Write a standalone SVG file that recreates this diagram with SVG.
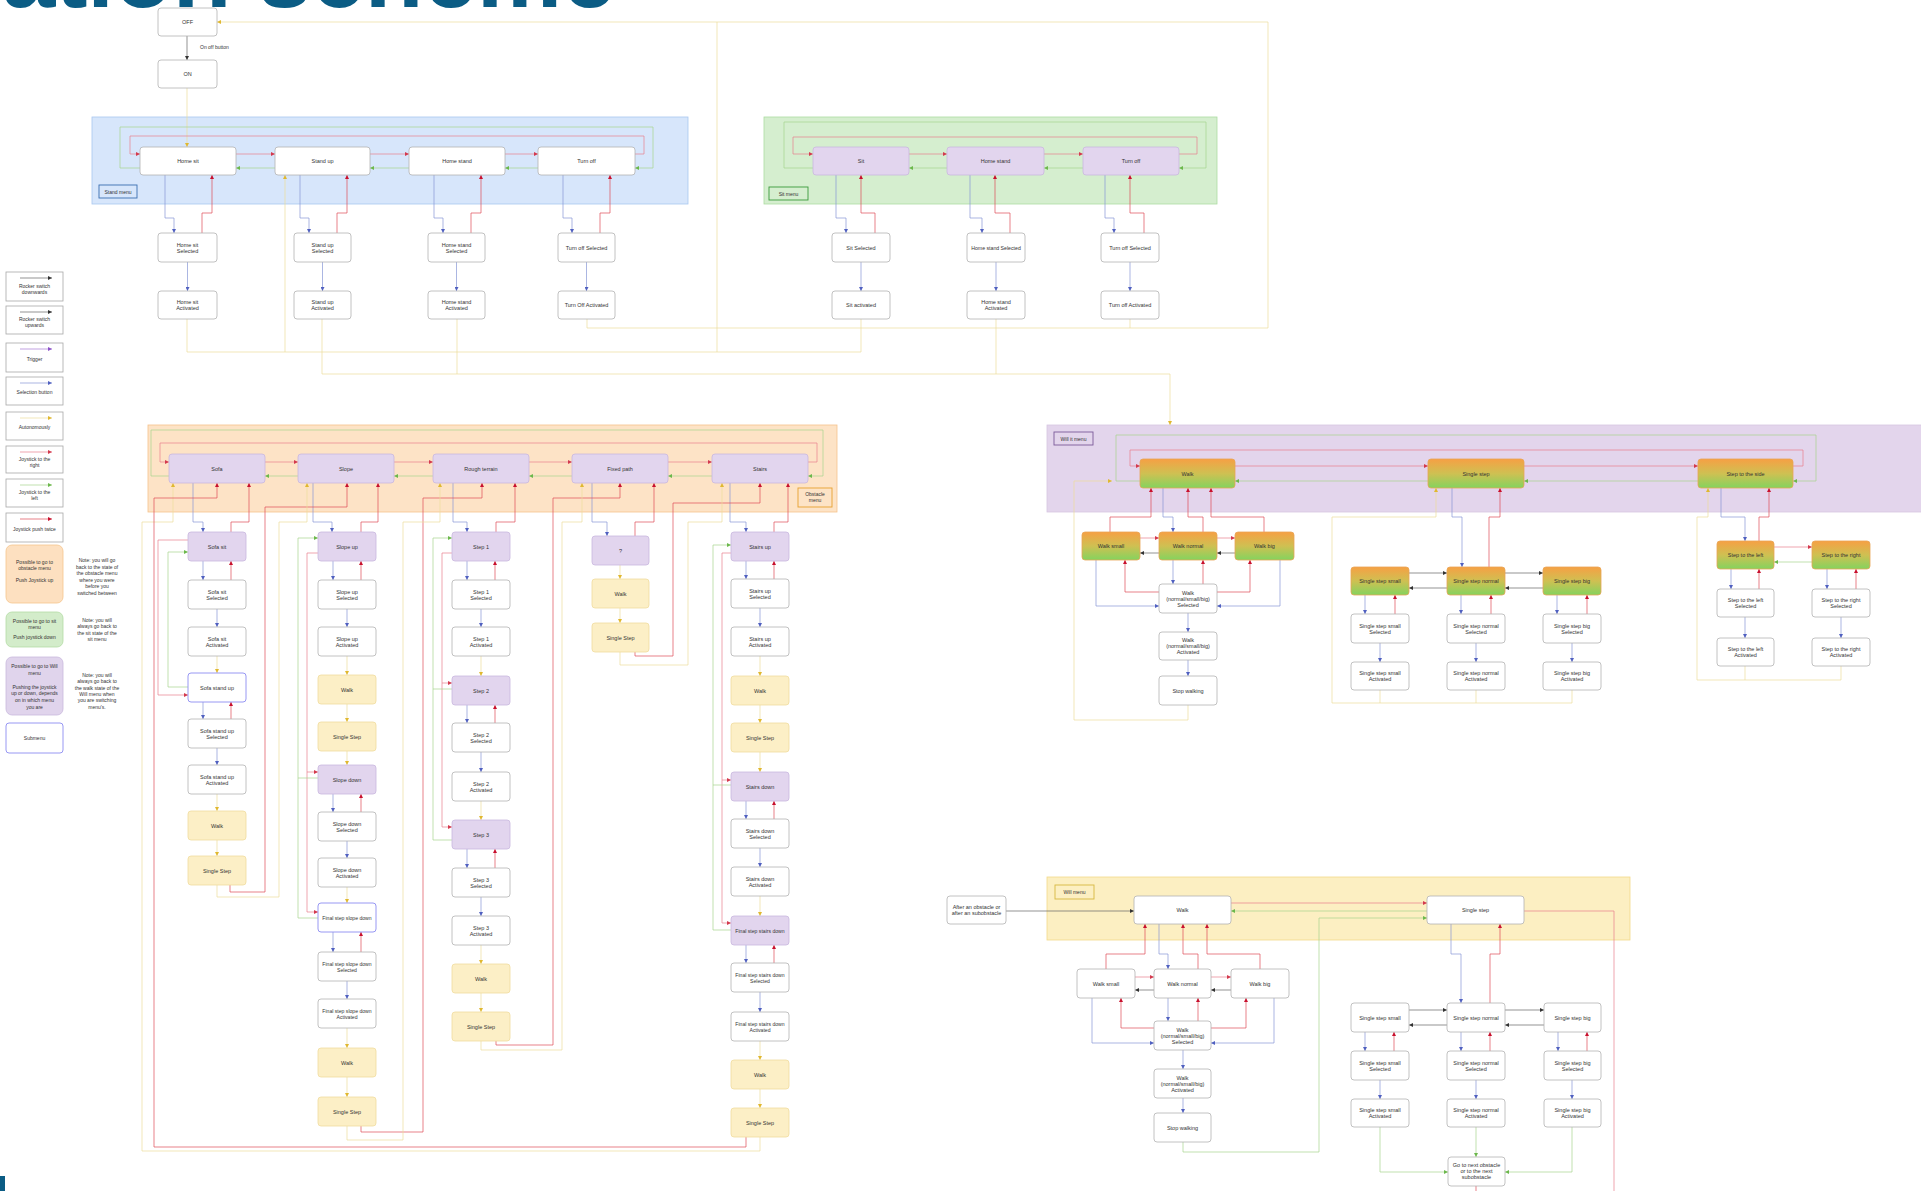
<svg xmlns="http://www.w3.org/2000/svg" width="1921" height="1191" viewBox="0 0 1921 1191">
<defs>
<style>
.t{font-family:'Liberation Sans',Arial,sans-serif;font-size:5.5px;fill:#333;text-anchor:middle}
.ts{font-family:'Liberation Sans',Arial,sans-serif;font-size:5px;fill:#333;text-anchor:middle}
.nw{fill:#fff;stroke:#b3b3b3;stroke-width:0.8}
.np{fill:#e2d5ee;stroke:#c9b8de;stroke-width:0.8}
.ny{fill:#fcefc6;stroke:#f0dc9e;stroke-width:0.8}
.ng{fill:url(#gr);stroke:#e8a555;stroke-width:0.8}
.ns{fill:#fff;stroke:#8c8cf2;stroke-width:0.9}
.lg{fill:#fff;stroke:#a8a8a8;stroke-width:0.8}
.c{fill:none;stroke-width:0.7}
.k{stroke:#666}.r{stroke:#e8808c}.R{stroke:#de4a58}.b{stroke:#8696d6}.y{stroke:#ecdd9c}.g{stroke:#a6d48e}.p{stroke:#a67ad4}
.ak{marker-end:url(#mk)}.ar{marker-end:url(#mr)}.aR{marker-end:url(#mR)}.ab{marker-end:url(#mb)}.ay{marker-end:url(#my)}.ag{marker-end:url(#mg)}.ap{marker-end:url(#mp)}
</style>
<linearGradient id="gr" x1="0" y1="0" x2="0" y2="1"><stop offset="0" stop-color="#f6a044"/><stop offset="0.5" stop-color="#cfc052"/><stop offset="1" stop-color="#84d35e"/></linearGradient>
<marker id="mk" viewBox="0 0 6 6" refX="6" refY="3" markerWidth="4" markerHeight="4" markerUnits="userSpaceOnUse" orient="auto"><path d="M0,0L6,3L0,6z" fill="#333"/></marker>
<marker id="mr" viewBox="0 0 6 6" refX="6" refY="3" markerWidth="4" markerHeight="4" markerUnits="userSpaceOnUse" orient="auto"><path d="M0,0L6,3L0,6z" fill="#d33a4e"/></marker>
<marker id="mR" viewBox="0 0 6 6" refX="6" refY="3" markerWidth="4" markerHeight="4" markerUnits="userSpaceOnUse" orient="auto"><path d="M0,0L6,3L0,6z" fill="#c8102e"/></marker>
<marker id="mb" viewBox="0 0 6 6" refX="6" refY="3" markerWidth="4" markerHeight="4" markerUnits="userSpaceOnUse" orient="auto"><path d="M0,0L6,3L0,6z" fill="#5060c0"/></marker>
<marker id="my" viewBox="0 0 6 6" refX="6" refY="3" markerWidth="4" markerHeight="4" markerUnits="userSpaceOnUse" orient="auto"><path d="M0,0L6,3L0,6z" fill="#e0b830"/></marker>
<marker id="mg" viewBox="0 0 6 6" refX="6" refY="3" markerWidth="4" markerHeight="4" markerUnits="userSpaceOnUse" orient="auto"><path d="M0,0L6,3L0,6z" fill="#6cb84c"/></marker>
<marker id="mp" viewBox="0 0 6 6" refX="6" refY="3" markerWidth="4" markerHeight="4" markerUnits="userSpaceOnUse" orient="auto"><path d="M0,0L6,3L0,6z" fill="#8a50c8"/></marker>
</defs>
<rect x="0" y="0" width="1921" height="1191" fill="#fff"/>
<svg x="0" y="0" width="700" height="9" overflow="hidden"><text x="2" y="7" font-family="'Liberation Sans',Arial,sans-serif" font-size="96" font-weight="bold" fill="#0b5c84">ation scheme</text></svg>
<rect x="0" y="1176" width="5" height="15" fill="#0b5c84"/>

<!-- menu backgrounds -->
<g id="stand-menu">
<rect x="92" y="117" width="596" height="87" fill="#d7e6fb" stroke="#a9c7ef" stroke-width="0.8"/>
<rect x="99" y="185" width="38" height="13" fill="#d7e6fb" stroke="#3a6fb0" stroke-width="0.9"/>
<text class="ts" x="118" y="193.5">Stand menu</text>
</g>
<g id="sit-menu">
<rect x="764" y="117" width="453" height="87" fill="#d5eecf" stroke="#acdca2" stroke-width="0.8"/>
<rect x="769" y="187" width="39" height="13" fill="#d5eecf" stroke="#3a9a3a" stroke-width="0.9"/>
<text class="ts" x="788.5" y="195.5">Sit menu</text>
</g>
<g id="obstacle-menu">
<rect x="148" y="425" width="689" height="87" fill="#fde3c6" stroke="#f6c28c" stroke-width="0.8"/>
<rect x="798" y="488" width="34" height="19" fill="#fde3c6" stroke="#e6a030" stroke-width="0.9"/>
<text class="ts" x="815" y="496"><tspan x="815">Obstacle</tspan><tspan x="815" dy="6">menu</tspan></text>
</g>
<g id="will-it-menu">
<rect x="1047" y="425" width="880" height="87" fill="#e3d5ec" stroke="#d6c6e2" stroke-width="0.8"/>
<rect x="1054" y="432" width="39" height="13" fill="#e3d5ec" stroke="#7a5a9a" stroke-width="0.9"/>
<text class="ts" x="1073.5" y="440.5">Will it menu</text>
</g>
<g id="will-menu">
<rect x="1047" y="877" width="583" height="63" fill="#fcefc2" stroke="#f3da8a" stroke-width="0.8"/>
<rect x="1055" y="885" width="39" height="14" fill="#fcefc2" stroke="#d8b840" stroke-width="0.9"/>
<text class="ts" x="1074.5" y="893.5">Will menu</text>
</g>

<!-- legend -->
<g id="legend">
<g id="lg1"><rect class="lg" x="6" y="272" width="57" height="29"/><path class="c k ak" d="M20,278H52"/><text class="ts" x="34.5" y="288"><tspan x="34.5">Rocker switch</tspan><tspan x="34.5" dy="6">downwards</tspan></text></g>
<g id="lg2"><rect class="lg" x="6" y="306" width="57" height="28"/><path class="c k ak" d="M20,312H52"/><text class="ts" x="34.5" y="321"><tspan x="34.5">Rocker switch</tspan><tspan x="34.5" dy="6">upwards</tspan></text></g>
<g id="lg3"><rect class="lg" x="6" y="343" width="57" height="29"/><path class="c p ap" d="M20,349H52"/><text class="ts" x="34.5" y="361">Trigger</text></g>
<g id="lg4"><rect class="lg" x="6" y="377" width="57" height="28"/><path class="c b ab" d="M20,383H52"/><text class="ts" x="34.5" y="394">Selection button</text></g>
<g id="lg5"><rect class="lg" x="6" y="412" width="57" height="28"/><path class="c y ay" d="M20,418H52"/><text class="ts" x="34.5" y="429">Autonomously</text></g>
<g id="lg6"><rect class="lg" x="6" y="446" width="57" height="27"/><path class="c r ar" d="M20,452H52"/><text class="ts" x="34.5" y="461"><tspan x="34.5">Joystick to the</tspan><tspan x="34.5" dy="6">right</tspan></text></g>
<g id="lg7"><rect class="lg" x="6" y="479" width="57" height="28"/><path class="c g ag" d="M20,485H52"/><text class="ts" x="34.5" y="494"><tspan x="34.5">Joystick to the</tspan><tspan x="34.5" dy="6">left</tspan></text></g>
<g id="lg8"><rect class="lg" x="6" y="513" width="57" height="29"/><path class="c R aR" d="M20,519H52"/><text class="ts" x="34.5" y="531">Joystick push twice</text></g>
<g id="lg9"><rect x="6" y="545" width="57" height="58" rx="6" fill="#fde0c0" stroke="#f5c58e" stroke-width="0.8"/><text class="ts" x="34.5" y="564"><tspan x="34.5">Possible to go to</tspan><tspan x="34.5" dy="6">obstacle menu</tspan><tspan x="34.5" dy="12">Push Joystick up</tspan></text>
<text class="ts" x="97" y="562"><tspan x="97">Note: you will go</tspan><tspan x="97" dy="6.6">back to the state of</tspan><tspan x="97" dy="6.6">the obstacle menu</tspan><tspan x="97" dy="6.6">where you were</tspan><tspan x="97" dy="6.6">before you</tspan><tspan x="97" dy="6.6">switched between</tspan></text></g>
<g id="lg10"><rect x="6" y="612" width="57" height="35" rx="6" fill="#d3ecca" stroke="#b4dca4" stroke-width="0.8"/><text class="ts" x="34.5" y="623"><tspan x="34.5">Possible to go to sit</tspan><tspan x="34.5" dy="6">menu</tspan><tspan x="34.5" dy="10">Push joystick down</tspan></text>
<text class="ts" x="97" y="622"><tspan x="97">Note: you will</tspan><tspan x="97" dy="6.3">always go back to</tspan><tspan x="97" dy="6.3">the sit state of the</tspan><tspan x="97" dy="6.3">sit menu</tspan></text></g>
<g id="lg11"><rect x="6" y="657" width="57" height="58" rx="6" fill="#e0d4ec" stroke="#c9b9dd" stroke-width="0.8"/><text class="ts" x="34.5" y="668"><tspan x="34.5">Possible to go to Will</tspan><tspan x="34.5" dy="6.5">menu</tspan><tspan x="34.5" dy="14">Pushing the joystick</tspan><tspan x="34.5" dy="6.8">up or down, depends</tspan><tspan x="34.5" dy="6.8">on in which menu</tspan><tspan x="34.5" dy="6.8">you are</tspan></text>
<text class="ts" x="97" y="677"><tspan x="97">Note: you will</tspan><tspan x="97" dy="6.3">always go back to</tspan><tspan x="97" dy="6.3">the walk state of the</tspan><tspan x="97" dy="6.3">Will menu when</tspan><tspan x="97" dy="6.3">you are switching</tspan><tspan x="97" dy="6.3">menu's.</tspan></text></g>
<g id="lg12"><rect x="6" y="723" width="57" height="30" rx="3" fill="#fff" stroke="#8c8cf2" stroke-width="0.9"/><text class="ts" x="34.5" y="740">Submenu</text></g>
</g>

<!-- connectors -->
<g id="connectors">
<path class="c k ak" d="M187,36V60"/>
<text class="ts" x="200" y="49" style="text-anchor:start">On off button</text>
<path class="c y ay" d="M187,88V147"/>
<path class="c y ay" d="M587,319V328H1268V22H217"/>
<path class="c y" d="M1130,319V328"/>
<path class="c y" d="M187,319V352H861V319"/>
<path class="c y ay" d="M285,352V175"/>
<path class="c y" d="M717,352V22"/>
<path class="c y ay" d="M322,319V374H1170V425"/>
<path class="c y" d="M457,319V374"/>
<path class="c y" d="M996,319V374"/>
<path class="c r ar" d="M236,154H275"/><path class="c r ar" d="M370,154H409"/><path class="c r ar" d="M505,154H538"/>
<path class="c r ar" d="M635,154H644V136H130V154H140"/>
<path class="c g ag" d="M275,168H236"/><path class="c g ag" d="M409,168H370"/><path class="c g ag" d="M538,168H505"/>
<path class="c g ag" d="M140,168H120V127H653V168H635"/>
<path class="c b ab" d="M165,175V218H174V233"/><path class="c R aR" d="M202,233V213H212V175"/>
<path class="c b ab" d="M300,175V218H309V233"/><path class="c R aR" d="M337,233V213H347V175"/>
<path class="c b ab" d="M434,175V218H443V233"/><path class="c R aR" d="M471,233V213H481V175"/>
<path class="c b ab" d="M563,175V218H572V233"/><path class="c R aR" d="M600,233V213H610V175"/>
<path class="c b ab" d="M187.5,262V291"/><path class="c b ab" d="M322.5,262V291"/><path class="c b ab" d="M456.5,262V291"/><path class="c b ab" d="M586.5,262V291"/>
<path class="c r ar" d="M909,154H947"/><path class="c r ar" d="M1044,154H1083"/>
<path class="c r ar" d="M1179,154H1197V137H793V154H813"/>
<path class="c g ag" d="M947,168H909"/><path class="c g ag" d="M1083,168H1044"/>
<path class="c g ag" d="M813,168H784V122H1206V168H1179"/>
<path class="c b ab" d="M836,175V218H846V233"/><path class="c R aR" d="M875,233V213H861V175"/>
<path class="c b ab" d="M970,175V218H982V233"/><path class="c R aR" d="M1010,233V213H995V175"/>
<path class="c b ab" d="M1105,175V218H1114V233"/><path class="c R aR" d="M1144,233V213H1130V175"/>
<path class="c b ab" d="M861,262V291"/><path class="c b ab" d="M996,262V291"/><path class="c b ab" d="M1130,262V291"/>
<path class="c r ar" d="M265,462H298"/><path class="c r ar" d="M394,462H433"/><path class="c r ar" d="M529,462H572"/><path class="c r ar" d="M668,462H712"/>
<path class="c r ar" d="M808,462H817V443H160V462H169"/>
<path class="c g ag" d="M298,476H265"/><path class="c g ag" d="M433,476H394"/><path class="c g ag" d="M572,476H529"/><path class="c g ag" d="M712,476H668"/>
<path class="c g ag" d="M169,476H151V430H823V476H808"/>
<path class="c b ab" d="M193,483V522H203V532"/><path class="c R aR" d="M231,532V522H249V483"/>
<path class="c b ab" d="M313,483V522H332V532"/><path class="c R aR" d="M361,532V522H378V483"/>
<path class="c b ab" d="M453,483V522H467V532"/><path class="c R aR" d="M496,532V522H515V483"/>
<path class="c b ab" d="M592,483V522H607V536"/><path class="c R aR" d="M635,536V522H654V483"/>
<path class="c b ab" d="M730,483V522H746V532"/><path class="c R aR" d="M774,532V522H788V483"/>
<path class="c y ay" d="M760,1137V1151H142V522H173V483"/>
<path class="c R aR" d="M746,1137V1147H154V498H217V483"/>
<path class="c R aR" d="M230,885V892H265V507H347V483"/>
<path class="c y ay" d="M217,885V897H279V522H307V483"/>
<path class="c R aR" d="M361,1126V1132H423V498H482V483"/>
<path class="c y ay" d="M347,1126V1140H403V522H440V483"/>
<path class="c R aR" d="M496,1041V1045H553V498H620V483"/>
<path class="c y ay" d="M481,1041V1050H562V522H582V483"/>
<path class="c R aR" d="M635,652V656H673V503H760V483"/>
<path class="c y ay" d="M620,652V665H688V522H722V483"/>
<path class="c b ab" d="M203,561V580"/><path class="c R aR" d="M231,580V561"/><path class="c b ab" d="M217,609V627"/><path class="c y ay" d="M217,656V673"/>
<path class="c b ab" d="M203,702V719"/><path class="c R aR" d="M231,719V702"/><path class="c b ab" d="M217,748V765"/><path class="c y ay" d="M217,794V811"/><path class="c y ay" d="M217,840V856"/>
<path class="c g ag" d="M188,687H168V552H188"/><path class="c r ar" d="M188,540H158V695H188"/>
<path class="c b ab" d="M333,561V580"/><path class="c R aR" d="M361,580V561"/><path class="c b ab" d="M347,609V627"/><path class="c y ay" d="M347,656V675"/><path class="c y ay" d="M347,704V722"/><path class="c y ay" d="M347,751V765"/>
<path class="c b ab" d="M333,794V812"/><path class="c R aR" d="M361,812V794"/><path class="c b ab" d="M347,841V858"/><path class="c y ay" d="M347,887V903"/>
<path class="c b ab" d="M333,932V952"/><path class="c R aR" d="M361,952V932"/><path class="c b ab" d="M347,981V999"/><path class="c y ay" d="M347,1028V1048"/><path class="c y ay" d="M347,1077V1097"/>
<path class="c r ar" d="M318,553H307V772H318"/><path class="c r ar" d="M307,772V912H318"/>
<path class="c g ag" d="M318,778H298V538H318"/><path class="c g" d="M318,918H298V778"/>
<path class="c b ab" d="M467,561V580"/><path class="c R aR" d="M495,580V561"/><path class="c b ab" d="M481,609V627"/><path class="c y ay" d="M481,656V676"/>
<path class="c b ab" d="M467,705V723"/><path class="c R aR" d="M495,723V705"/><path class="c b ab" d="M481,752V772"/><path class="c y ay" d="M481,801V820"/>
<path class="c b ab" d="M467,849V868"/><path class="c R aR" d="M495,868V849"/><path class="c b ab" d="M481,897V916"/><path class="c y ay" d="M481,945V964"/><path class="c y ay" d="M481,993V1012"/>
<path class="c r ar" d="M452,553H442V683H452"/><path class="c r ar" d="M442,683V827H452"/>
<path class="c g ag" d="M452,689H433V538H452"/><path class="c g" d="M452,840H433V689"/>
<path class="c y ay" d="M620,565V579"/><path class="c y ay" d="M620,608V623"/>
<path class="c b ab" d="M746,561V579"/><path class="c R aR" d="M774,579V561"/><path class="c b ab" d="M760,608V627"/><path class="c y ay" d="M760,656V676"/><path class="c y ay" d="M760,705V723"/><path class="c y ay" d="M760,752V772"/>
<path class="c b ab" d="M746,801V819"/><path class="c R aR" d="M774,819V801"/><path class="c b ab" d="M760,848V867"/><path class="c y ay" d="M760,896V916"/>
<path class="c b ab" d="M746,945V963"/><path class="c R aR" d="M774,963V945"/><path class="c b ab" d="M760,992V1012"/><path class="c y ay" d="M760,1041V1060"/><path class="c y ay" d="M760,1089V1108"/>
<path class="c r ar" d="M731,553H722V780H731"/><path class="c r ar" d="M722,780V923H731"/>
<path class="c g ag" d="M731,785H713V545H731"/><path class="c g" d="M731,930H713V785"/>
<path class="c r ar" d="M1235,466H1428"/><path class="c r ar" d="M1524,466H1698"/>
<path class="c r ar" d="M1793,466H1803V450H1130V466H1140"/>
<path class="c g ag" d="M1428,481H1235"/><path class="c g ag" d="M1698,481H1524"/>
<path class="c g ag" d="M1140,481H1116V435H1816V481H1793"/>
<path class="c y ay" d="M1188,705V720H1074V481H1112"/>
<path class="c R aR" d="M1110,532V517H1151V488"/><path class="c b ab" d="M1163,488V517H1173V532"/><path class="c R aR" d="M1203,532V517H1188V488"/><path class="c R aR" d="M1264,532V517H1211V488"/>
<path class="c r ar" d="M1140,538H1159"/><path class="c r ar" d="M1217,538H1235"/><path class="c k ak" d="M1159,553H1140"/><path class="c k ak" d="M1235,553H1217"/>
<path class="c R aR" d="M1159,592H1125V560"/><path class="c b ab" d="M1096,560V606H1159"/><path class="c b ab" d="M1173,560V584"/><path class="c R aR" d="M1203,584V560"/>
<path class="c R aR" d="M1217,592H1250V560"/><path class="c b ab" d="M1280,560V606H1217"/>
<path class="c b ab" d="M1188,613V632"/><path class="c b ab" d="M1188,660V676"/>
<path class="c b ab" d="M1452,488V517H1462V567"/><path class="c R aR" d="M1489,567V517H1500V488"/>
<path class="c k ak" d="M1409,573H1447"/><path class="c k ak" d="M1505,573H1543"/><path class="c k ak" d="M1447,588H1409"/><path class="c k ak" d="M1543,588H1505"/>
<path class="c b ab" d="M1365,595V614"/><path class="c R aR" d="M1395,614V595"/><path class="c b ab" d="M1461,595V614"/><path class="c R aR" d="M1491,614V595"/><path class="c b ab" d="M1557,595V614"/><path class="c R aR" d="M1587,614V595"/>
<path class="c b ab" d="M1380,643V662"/><path class="c b ab" d="M1476,643V662"/><path class="c b ab" d="M1572,643V662"/>
<path class="c y ay" d="M1572,690V703H1332V517H1436V488"/><path class="c y" d="M1380,690V703"/><path class="c y" d="M1476,690V703"/>
<path class="c b ab" d="M1721,488V517H1745V541"/><path class="c R aR" d="M1759,541V517H1769V488"/>
<path class="c r ar" d="M1774,547H1812"/><path class="c g ag" d="M1812,562H1774"/>
<path class="c b ab" d="M1731,569V589"/><path class="c R aR" d="M1759,589V569"/><path class="c b ab" d="M1827,569V589"/><path class="c R aR" d="M1856,589V569"/>
<path class="c b ab" d="M1745,617V638"/><path class="c b ab" d="M1841,617V638"/>
<path class="c y ay" d="M1841,666V680H1697V517H1708V488"/><path class="c y" d="M1745,666V680"/>
<path class="c k ak" d="M1006,911H1134"/>
<path class="c r ar" d="M1231,903H1427"/><path class="c g ag" d="M1427,911H1231"/>
<path class="c r" d="M1524,911H1614V1191"/>
<path class="c g ag" d="M1183,1142V1152H1319V918H1427"/>
<path class="c R aR" d="M1106,969V954H1145V924"/><path class="c b ab" d="M1159,924V954H1168V969"/><path class="c R aR" d="M1198,969V954H1183V924"/><path class="c R aR" d="M1260,969V954H1207V924"/>
<path class="c r ar" d="M1135,977H1154"/><path class="c r ar" d="M1211,977H1231"/><path class="c k ak" d="M1154,990H1135"/><path class="c k ak" d="M1231,990H1211"/>
<path class="c R aR" d="M1154,1028H1121V998"/><path class="c b ab" d="M1092,998V1043H1154"/><path class="c b ab" d="M1168,998V1021"/><path class="c R aR" d="M1198,1021V998"/>
<path class="c R aR" d="M1211,1028H1246V998"/><path class="c b ab" d="M1274,998V1043H1211"/>
<path class="c b ab" d="M1183,1050V1069"/><path class="c b ab" d="M1183,1098V1113"/>
<path class="c b ab" d="M1451,924V954H1461V1003"/><path class="c R aR" d="M1490,1003V954H1500V924"/>
<path class="c k ak" d="M1409,1010H1447"/><path class="c k ak" d="M1505,1010H1544"/><path class="c k ak" d="M1447,1025H1409"/><path class="c k ak" d="M1544,1025H1505"/>
<path class="c b ab" d="M1365,1032V1051"/><path class="c R aR" d="M1394,1051V1032"/><path class="c b ab" d="M1461,1032V1051"/><path class="c R aR" d="M1490,1051V1032"/><path class="c b ab" d="M1558,1032V1051"/><path class="c R aR" d="M1587,1051V1032"/>
<path class="c b ab" d="M1380,1080V1099"/><path class="c b ab" d="M1476,1080V1099"/><path class="c b ab" d="M1572,1080V1099"/>
<path class="c g ag" d="M1380,1127V1172H1448"/><path class="c g ag" d="M1476,1127V1157"/><path class="c g ag" d="M1572,1127V1172H1505"/>
<path class="c R" d="M1476,1186V1191"/>
</g>

<g id="off"><rect class="nw" x="158" y="8" width="59" height="28" rx="3"/><text class="t" x="187.5" y="24">OFF</text></g>
<g id="on"><rect class="nw" x="158" y="60" width="59" height="28" rx="3"/><text class="t" x="187.5" y="76">ON</text></g>
<g id="home-sit"><rect class="nw" x="140" y="147" width="96" height="28" rx="3"/><text class="t" x="188" y="163">Home sit</text></g>
<g id="stand-up"><rect class="nw" x="275" y="147" width="95" height="28" rx="3"/><text class="t" x="322.5" y="163">Stand up</text></g>
<g id="home-stand"><rect class="nw" x="409" y="147" width="96" height="28" rx="3"/><text class="t" x="457" y="163">Home stand</text></g>
<g id="turn-off"><rect class="nw" x="538" y="147" width="97" height="28" rx="3"/><text class="t" x="586.5" y="163">Turn off</text></g>
<g id="home-sit-sel"><rect class="nw" x="158" y="233" width="59" height="29" rx="3"/><text class="t" x="187.5" y="246.5"><tspan x="187.5">Home sit</tspan><tspan x="187.5" dy="6">Selected</tspan></text></g>
<g id="home-sit-act"><rect class="nw" x="158" y="291" width="59" height="28" rx="3"/><text class="t" x="187.5" y="304"><tspan x="187.5">Home sit</tspan><tspan x="187.5" dy="6">Activated</tspan></text></g>
<g id="stand-up-sel"><rect class="nw" x="294" y="233" width="57" height="29" rx="3"/><text class="t" x="322.5" y="246.5"><tspan x="322.5">Stand up</tspan><tspan x="322.5" dy="6">Selected</tspan></text></g>
<g id="stand-up-act"><rect class="nw" x="294" y="291" width="57" height="28" rx="3"/><text class="t" x="322.5" y="304"><tspan x="322.5">Stand up</tspan><tspan x="322.5" dy="6">Activated</tspan></text></g>
<g id="home-stand-sel"><rect class="nw" x="428" y="233" width="57" height="29" rx="3"/><text class="t" x="456.5" y="246.5"><tspan x="456.5">Home stand</tspan><tspan x="456.5" dy="6">Selected</tspan></text></g>
<g id="home-stand-act"><rect class="nw" x="428" y="291" width="57" height="28" rx="3"/><text class="t" x="456.5" y="304"><tspan x="456.5">Home stand</tspan><tspan x="456.5" dy="6">Activated</tspan></text></g>
<g id="turn-off-sel"><rect class="nw" x="558" y="233" width="57" height="29" rx="3"/><text class="t" x="586.5" y="249.5">Turn off Selected</text></g>
<g id="turn-off-act"><rect class="nw" x="558" y="291" width="57" height="28" rx="3"/><text class="t" x="586.5" y="307">Turn Off Activated</text></g>

<g id="sit"><rect class="np" x="813" y="147" width="96" height="28" rx="3"/><text class="t" x="861" y="163">Sit</text></g>
<g id="sm-home-stand"><rect class="np" x="947" y="147" width="97" height="28" rx="3"/><text class="t" x="995.5" y="163">Home stand</text></g>
<g id="sm-turn-off"><rect class="np" x="1083" y="147" width="96" height="28" rx="3"/><text class="t" x="1131" y="163">Turn off</text></g>
<g id="sit-sel"><rect class="nw" x="832" y="233" width="58" height="29" rx="3"/><text class="t" x="861" y="249.5">Sit Selected</text></g>
<g id="sm-home-stand-sel"><rect class="nw" x="967" y="233" width="58" height="29" rx="3"/><text class="t" x="996" y="249.5" style="font-size:5.2px">Home stand Selected</text></g>
<g id="sm-turn-off-sel"><rect class="nw" x="1101" y="233" width="58" height="29" rx="3"/><text class="t" x="1130" y="249.5">Turn off Selected</text></g>
<g id="sit-act"><rect class="nw" x="832" y="291" width="58" height="28" rx="3"/><text class="t" x="861" y="307">Sit activated</text></g>
<g id="sm-home-stand-act"><rect class="nw" x="967" y="291" width="58" height="28" rx="3"/><text class="t" x="996" y="304"><tspan x="996">Home stand</tspan><tspan x="996" dy="6">Activated</tspan></text></g>
<g id="sm-turn-off-act"><rect class="nw" x="1101" y="291" width="58" height="28" rx="3"/><text class="t" x="1130" y="307">Turn off Activated</text></g>

<g id="sofa"><rect class="np" x="169" y="454" width="96" height="29" rx="3"/><text class="t" x="217" y="470.5">Sofa</text></g>
<g id="slope"><rect class="np" x="298" y="454" width="96" height="29" rx="3"/><text class="t" x="346" y="470.5">Slope</text></g>
<g id="rough"><rect class="np" x="433" y="454" width="96" height="29" rx="3"/><text class="t" x="481" y="470.5">Rough terrain</text></g>
<g id="fixed"><rect class="np" x="572" y="454" width="96" height="29" rx="3"/><text class="t" x="620" y="470.5">Fixed path</text></g>
<g id="stairs"><rect class="np" x="712" y="454" width="96" height="29" rx="3"/><text class="t" x="760" y="470.5">Stairs</text></g>

<g id="sofa-sit"><rect class="np" x="188" y="532" width="58" height="29" rx="3"/><text class="t" x="217" y="548.5">Sofa sit</text></g>
<g id="sofa-sit-sel"><rect class="nw" x="188" y="580" width="58" height="29" rx="3"/><text class="t" x="217" y="593.5"><tspan x="217">Sofa sit</tspan><tspan x="217" dy="6">Selected</tspan></text></g>
<g id="sofa-sit-act"><rect class="nw" x="188" y="627" width="58" height="29" rx="3"/><text class="t" x="217" y="640.5"><tspan x="217">Sofa sit</tspan><tspan x="217" dy="6">Activated</tspan></text></g>
<g id="sofa-stand"><rect class="ns" x="188" y="673" width="58" height="29" rx="3"/><text class="t" x="217" y="689.5">Sofa stand up</text></g>
<g id="sofa-stand-sel"><rect class="nw" x="188" y="719" width="58" height="29" rx="3"/><text class="t" x="217" y="732.5"><tspan x="217">Sofa stand up</tspan><tspan x="217" dy="6">Selected</tspan></text></g>
<g id="sofa-stand-act"><rect class="nw" x="188" y="765" width="58" height="29" rx="3"/><text class="t" x="217" y="778.5"><tspan x="217">Sofa stand up</tspan><tspan x="217" dy="6">Activated</tspan></text></g>
<g id="sofa-walk"><rect class="ny" x="188" y="811" width="58" height="29" rx="3"/><text class="t" x="217" y="827.5">Walk</text></g>
<g id="sofa-single"><rect class="ny" x="188" y="856" width="58" height="29" rx="3"/><text class="t" x="217" y="872.5">Single Step</text></g>

<g id="slope-up"><rect class="np" x="318" y="532" width="58" height="29" rx="3"/><text class="t" x="347" y="548.5">Slope up</text></g>
<g id="slope-up-sel"><rect class="nw" x="318" y="580" width="58" height="29" rx="3"/><text class="t" x="347" y="593.5"><tspan x="347">Slope up</tspan><tspan x="347" dy="6">Selected</tspan></text></g>
<g id="slope-up-act"><rect class="nw" x="318" y="627" width="58" height="29" rx="3"/><text class="t" x="347" y="640.5"><tspan x="347">Slope up</tspan><tspan x="347" dy="6">Activated</tspan></text></g>
<g id="slope-walk1"><rect class="ny" x="318" y="675" width="58" height="29" rx="3"/><text class="t" x="347" y="691.5">Walk</text></g>
<g id="slope-single1"><rect class="ny" x="318" y="722" width="58" height="29" rx="3"/><text class="t" x="347" y="738.5">Single Step</text></g>
<g id="slope-down"><rect class="np" x="318" y="765" width="58" height="29" rx="3"/><text class="t" x="347" y="781.5">Slope down</text></g>
<g id="slope-down-sel"><rect class="nw" x="318" y="812" width="58" height="29" rx="3"/><text class="t" x="347" y="825.5"><tspan x="347">Slope down</tspan><tspan x="347" dy="6">Selected</tspan></text></g>
<g id="slope-down-act"><rect class="nw" x="318" y="858" width="58" height="29" rx="3"/><text class="t" x="347" y="871.5"><tspan x="347">Slope down</tspan><tspan x="347" dy="6">Activated</tspan></text></g>
<g id="final-slope"><rect class="ns" x="318" y="903" width="58" height="29" rx="3"/><text class="t" x="347" y="919.5" style="font-size:5.1px">Final step slope down</text></g>
<g id="final-slope-sel"><rect class="nw" x="318" y="952" width="58" height="29" rx="3"/><text class="t" x="347" y="965.5" style="font-size:5.1px"><tspan x="347">Final step slope down</tspan><tspan x="347" dy="6">Selected</tspan></text></g>
<g id="final-slope-act"><rect class="nw" x="318" y="999" width="58" height="29" rx="3"/><text class="t" x="347" y="1012.5" style="font-size:5.1px"><tspan x="347">Final step slope down</tspan><tspan x="347" dy="6">Activated</tspan></text></g>
<g id="slope-walk2"><rect class="ny" x="318" y="1048" width="58" height="29" rx="3"/><text class="t" x="347" y="1064.5">Walk</text></g>
<g id="slope-single2"><rect class="ny" x="318" y="1097" width="58" height="29" rx="3"/><text class="t" x="347" y="1113.5">Single Step</text></g>

<g id="step1"><rect class="np" x="452" y="532" width="58" height="29" rx="3"/><text class="t" x="481" y="548.5">Step 1</text></g>
<g id="step1-sel"><rect class="nw" x="452" y="580" width="58" height="29" rx="3"/><text class="t" x="481" y="593.5"><tspan x="481">Step 1</tspan><tspan x="481" dy="6">Selected</tspan></text></g>
<g id="step1-act"><rect class="nw" x="452" y="627" width="58" height="29" rx="3"/><text class="t" x="481" y="640.5"><tspan x="481">Step 1</tspan><tspan x="481" dy="6">Activated</tspan></text></g>
<g id="step2"><rect class="np" x="452" y="676" width="58" height="29" rx="3"/><text class="t" x="481" y="692.5">Step 2</text></g>
<g id="step2-sel"><rect class="nw" x="452" y="723" width="58" height="29" rx="3"/><text class="t" x="481" y="736.5"><tspan x="481">Step 2</tspan><tspan x="481" dy="6">Selected</tspan></text></g>
<g id="step2-act"><rect class="nw" x="452" y="772" width="58" height="29" rx="3"/><text class="t" x="481" y="785.5"><tspan x="481">Step 2</tspan><tspan x="481" dy="6">Activated</tspan></text></g>
<g id="step3"><rect class="np" x="452" y="820" width="58" height="29" rx="3"/><text class="t" x="481" y="836.5">Step 3</text></g>
<g id="step3-sel"><rect class="nw" x="452" y="868" width="58" height="29" rx="3"/><text class="t" x="481" y="881.5"><tspan x="481">Step 3</tspan><tspan x="481" dy="6">Selected</tspan></text></g>
<g id="step3-act"><rect class="nw" x="452" y="916" width="58" height="29" rx="3"/><text class="t" x="481" y="929.5"><tspan x="481">Step 3</tspan><tspan x="481" dy="6">Activated</tspan></text></g>
<g id="rough-walk"><rect class="ny" x="452" y="964" width="58" height="29" rx="3"/><text class="t" x="481" y="980.5">Walk</text></g>
<g id="rough-single"><rect class="ny" x="452" y="1012" width="58" height="29" rx="3"/><text class="t" x="481" y="1028.5">Single Step</text></g>

<g id="fixed-q"><rect class="np" x="592" y="536" width="57" height="29" rx="3"/><text class="t" x="620.5" y="552.5">?</text></g>
<g id="fixed-walk"><rect class="ny" x="592" y="579" width="57" height="29" rx="3"/><text class="t" x="620.5" y="595.5">Walk</text></g>
<g id="fixed-single"><rect class="ny" x="592" y="623" width="57" height="29" rx="3"/><text class="t" x="620.5" y="639.5">Single Step</text></g>

<g id="stairs-up"><rect class="np" x="731" y="532" width="58" height="29" rx="3"/><text class="t" x="760" y="548.5">Stairs up</text></g>
<g id="stairs-up-sel"><rect class="nw" x="731" y="579" width="58" height="29" rx="3"/><text class="t" x="760" y="592.5"><tspan x="760">Stairs up</tspan><tspan x="760" dy="6">Selected</tspan></text></g>
<g id="stairs-up-act"><rect class="nw" x="731" y="627" width="58" height="29" rx="3"/><text class="t" x="760" y="640.5"><tspan x="760">Stairs up</tspan><tspan x="760" dy="6">Activated</tspan></text></g>
<g id="stairs-walk1"><rect class="ny" x="731" y="676" width="58" height="29" rx="3"/><text class="t" x="760" y="692.5">Walk</text></g>
<g id="stairs-single1"><rect class="ny" x="731" y="723" width="58" height="29" rx="3"/><text class="t" x="760" y="739.5">Single Step</text></g>
<g id="stairs-down"><rect class="np" x="731" y="772" width="58" height="29" rx="3"/><text class="t" x="760" y="788.5">Stairs down</text></g>
<g id="stairs-down-sel"><rect class="nw" x="731" y="819" width="58" height="29" rx="3"/><text class="t" x="760" y="832.5"><tspan x="760">Stairs down</tspan><tspan x="760" dy="6">Selected</tspan></text></g>
<g id="stairs-down-act"><rect class="nw" x="731" y="867" width="58" height="29" rx="3"/><text class="t" x="760" y="880.5"><tspan x="760">Stairs down</tspan><tspan x="760" dy="6">Activated</tspan></text></g>
<g id="final-stairs"><rect class="np" x="731" y="916" width="58" height="29" rx="3"/><text class="t" x="760" y="932.5" style="font-size:5.1px">Final step stairs down</text></g>
<g id="final-stairs-sel"><rect class="nw" x="731" y="963" width="58" height="29" rx="3"/><text class="t" x="760" y="976.5" style="font-size:5.1px"><tspan x="760">Final step stairs down</tspan><tspan x="760" dy="6">Selected</tspan></text></g>
<g id="final-stairs-act"><rect class="nw" x="731" y="1012" width="58" height="29" rx="3"/><text class="t" x="760" y="1025.5" style="font-size:5.1px"><tspan x="760">Final step stairs down</tspan><tspan x="760" dy="6">Activated</tspan></text></g>
<g id="stairs-walk2"><rect class="ny" x="731" y="1060" width="58" height="29" rx="3"/><text class="t" x="760" y="1076.5">Walk</text></g>
<g id="stairs-single2"><rect class="ny" x="731" y="1108" width="58" height="29" rx="3"/><text class="t" x="760" y="1124.5">Single Step</text></g>

<g id="wi-walk"><rect class="ng" x="1140" y="459" width="95" height="29" rx="3"/><text class="t" x="1187.5" y="475.5">Walk</text></g>
<g id="wi-single"><rect class="ng" x="1428" y="459" width="96" height="29" rx="3"/><text class="t" x="1476" y="475.5">Single step</text></g>
<g id="wi-side"><rect class="ng" x="1698" y="459" width="95" height="29" rx="3"/><text class="t" x="1745.5" y="475.5">Step to the side</text></g>
<g id="wi-walk-small"><rect class="ng" x="1082" y="532" width="58" height="28" rx="3"/><text class="t" x="1111" y="548">Walk small</text></g>
<g id="wi-walk-normal"><rect class="ng" x="1159" y="532" width="58" height="28" rx="3"/><text class="t" x="1188" y="548">Walk normal</text></g>
<g id="wi-walk-big"><rect class="ng" x="1235" y="532" width="59" height="28" rx="3"/><text class="t" x="1264.5" y="548">Walk big</text></g>
<g id="wi-walk-sel"><rect class="nw" x="1159" y="584" width="58" height="29" rx="3"/><text class="t" x="1188" y="594.5"><tspan x="1188">Walk</tspan><tspan x="1188" dy="6">(normal/small/big)</tspan><tspan x="1188" dy="6">Selected</tspan></text></g>
<g id="wi-walk-act"><rect class="nw" x="1159" y="632" width="58" height="28" rx="3"/><text class="t" x="1188" y="642"><tspan x="1188">Walk</tspan><tspan x="1188" dy="6">(normal/small/big)</tspan><tspan x="1188" dy="6">Activated</tspan></text></g>
<g id="wi-stop"><rect class="nw" x="1159" y="676" width="58" height="29" rx="3"/><text class="t" x="1188" y="692.5">Stop walking</text></g>
<g id="wi-ss-small"><rect class="ng" x="1351" y="567" width="58" height="28" rx="3"/><text class="t" x="1380" y="583">Single step small</text></g>
<g id="wi-ss-normal"><rect class="ng" x="1447" y="567" width="58" height="28" rx="3"/><text class="t" x="1476" y="583">Single step normal</text></g>
<g id="wi-ss-big"><rect class="ng" x="1543" y="567" width="58" height="28" rx="3"/><text class="t" x="1572" y="583">Single step big</text></g>
<g id="wi-ss-small-sel"><rect class="nw" x="1351" y="614" width="58" height="29" rx="3"/><text class="t" x="1380" y="627.5"><tspan x="1380">Single step small</tspan><tspan x="1380" dy="6">Selected</tspan></text></g>
<g id="wi-ss-normal-sel"><rect class="nw" x="1447" y="614" width="58" height="29" rx="3"/><text class="t" x="1476" y="627.5"><tspan x="1476">Single step normal</tspan><tspan x="1476" dy="6">Selected</tspan></text></g>
<g id="wi-ss-big-sel"><rect class="nw" x="1543" y="614" width="58" height="29" rx="3"/><text class="t" x="1572" y="627.5"><tspan x="1572">Single step big</tspan><tspan x="1572" dy="6">Selected</tspan></text></g>
<g id="wi-ss-small-act"><rect class="nw" x="1351" y="662" width="58" height="28" rx="3"/><text class="t" x="1380" y="675"><tspan x="1380">Single step small</tspan><tspan x="1380" dy="6">Activated</tspan></text></g>
<g id="wi-ss-normal-act"><rect class="nw" x="1447" y="662" width="58" height="28" rx="3"/><text class="t" x="1476" y="675"><tspan x="1476">Single step normal</tspan><tspan x="1476" dy="6">Activated</tspan></text></g>
<g id="wi-ss-big-act"><rect class="nw" x="1543" y="662" width="58" height="28" rx="3"/><text class="t" x="1572" y="675"><tspan x="1572">Single step big</tspan><tspan x="1572" dy="6">Activated</tspan></text></g>
<g id="wi-left"><rect class="ng" x="1717" y="541" width="57" height="28" rx="3"/><text class="t" x="1745.5" y="557">Step to the left</text></g>
<g id="wi-right"><rect class="ng" x="1812" y="541" width="58" height="28" rx="3"/><text class="t" x="1841" y="557">Step to the right</text></g>
<g id="wi-left-sel"><rect class="nw" x="1717" y="589" width="57" height="28" rx="3"/><text class="t" x="1745.5" y="602"><tspan x="1745.5">Step to the left</tspan><tspan x="1745.5" dy="6">Selected</tspan></text></g>
<g id="wi-right-sel"><rect class="nw" x="1812" y="589" width="58" height="28" rx="3"/><text class="t" x="1841" y="602"><tspan x="1841">Step to the right</tspan><tspan x="1841" dy="6">Selected</tspan></text></g>
<g id="wi-left-act"><rect class="nw" x="1717" y="638" width="57" height="28" rx="3"/><text class="t" x="1745.5" y="651"><tspan x="1745.5">Step to the left</tspan><tspan x="1745.5" dy="6">Activated</tspan></text></g>
<g id="wi-right-act"><rect class="nw" x="1812" y="638" width="58" height="28" rx="3"/><text class="t" x="1841" y="651"><tspan x="1841">Step to the right</tspan><tspan x="1841" dy="6">Activated</tspan></text></g>

<g id="after-obstacle"><rect class="nw" x="947" y="896" width="59" height="28" rx="3"/><text class="t" x="976.5" y="909"><tspan x="976.5">After an obstacle or</tspan><tspan x="976.5" dy="6">after an subobstacle</tspan></text></g>
<g id="wm-walk"><rect class="nw" x="1134" y="896" width="97" height="28" rx="3"/><text class="t" x="1182.5" y="912">Walk</text></g>
<g id="wm-single"><rect class="nw" x="1427" y="896" width="97" height="28" rx="3"/><text class="t" x="1475.5" y="912">Single step</text></g>
<g id="wm-walk-small"><rect class="nw" x="1077" y="969" width="58" height="29" rx="3"/><text class="t" x="1106" y="985.5">Walk small</text></g>
<g id="wm-walk-normal"><rect class="nw" x="1154" y="969" width="57" height="29" rx="3"/><text class="t" x="1182.5" y="985.5">Walk normal</text></g>
<g id="wm-walk-big"><rect class="nw" x="1231" y="969" width="58" height="29" rx="3"/><text class="t" x="1260" y="985.5">Walk big</text></g>
<g id="wm-walk-sel"><rect class="nw" x="1154" y="1021" width="57" height="29" rx="3"/><text class="t" x="1182.5" y="1031.5"><tspan x="1182.5">Walk</tspan><tspan x="1182.5" dy="6">(normal/small/big)</tspan><tspan x="1182.5" dy="6">Selected</tspan></text></g>
<g id="wm-walk-act"><rect class="nw" x="1154" y="1069" width="57" height="29" rx="3"/><text class="t" x="1182.5" y="1079.5"><tspan x="1182.5">Walk</tspan><tspan x="1182.5" dy="6">(normal/small/big)</tspan><tspan x="1182.5" dy="6">Activated</tspan></text></g>
<g id="wm-stop"><rect class="nw" x="1154" y="1113" width="57" height="29" rx="3"/><text class="t" x="1182.5" y="1129.5">Stop walking</text></g>
<g id="wm-ss-small"><rect class="nw" x="1351" y="1003" width="58" height="29" rx="3"/><text class="t" x="1380" y="1019.5">Single step small</text></g>
<g id="wm-ss-normal"><rect class="nw" x="1447" y="1003" width="58" height="29" rx="3"/><text class="t" x="1476" y="1019.5">Single step normal</text></g>
<g id="wm-ss-big"><rect class="nw" x="1544" y="1003" width="57" height="29" rx="3"/><text class="t" x="1572.5" y="1019.5">Single step big</text></g>
<g id="wm-ss-small-sel"><rect class="nw" x="1351" y="1051" width="58" height="29" rx="3"/><text class="t" x="1380" y="1064.5"><tspan x="1380">Single step small</tspan><tspan x="1380" dy="6">Selected</tspan></text></g>
<g id="wm-ss-normal-sel"><rect class="nw" x="1447" y="1051" width="58" height="29" rx="3"/><text class="t" x="1476" y="1064.5"><tspan x="1476">Single step normal</tspan><tspan x="1476" dy="6">Selected</tspan></text></g>
<g id="wm-ss-big-sel"><rect class="nw" x="1544" y="1051" width="57" height="29" rx="3"/><text class="t" x="1572.5" y="1064.5"><tspan x="1572.5">Single step big</tspan><tspan x="1572.5" dy="6">Selected</tspan></text></g>
<g id="wm-ss-small-act"><rect class="nw" x="1351" y="1099" width="58" height="28" rx="3"/><text class="t" x="1380" y="1112"><tspan x="1380">Single step small</tspan><tspan x="1380" dy="6">Activated</tspan></text></g>
<g id="wm-ss-normal-act"><rect class="nw" x="1447" y="1099" width="58" height="28" rx="3"/><text class="t" x="1476" y="1112"><tspan x="1476">Single step normal</tspan><tspan x="1476" dy="6">Activated</tspan></text></g>
<g id="wm-ss-big-act"><rect class="nw" x="1544" y="1099" width="57" height="28" rx="3"/><text class="t" x="1572.5" y="1112"><tspan x="1572.5">Single step big</tspan><tspan x="1572.5" dy="6">Activated</tspan></text></g>
<g id="wm-goto"><rect class="nw" x="1448" y="1157" width="57" height="29" rx="3"/><text class="t" x="1476.5" y="1166.5"><tspan x="1476.5">Go to next obstacle</tspan><tspan x="1476.5" dy="6">or to the next</tspan><tspan x="1476.5" dy="6">subobstacle</tspan></text></g>
</svg>
